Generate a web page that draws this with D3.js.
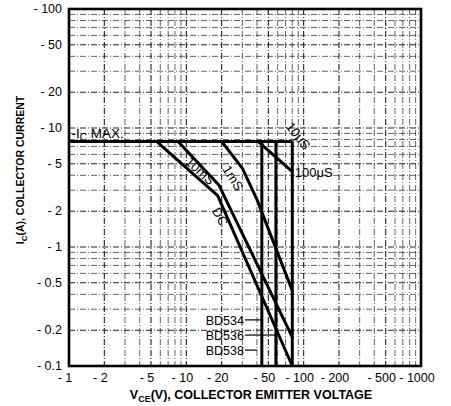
<!DOCTYPE html>
<html>
<head>
<meta charset="utf-8">
<script src="https://cdn.jsdelivr.net/npm/d3@7"></script>
<style>
  body { margin: 0; background: #fff; }
  text { font-family: "Liberation Sans", Arial, sans-serif; fill: #000; }
</style>
</head>
<body>
<div class="vis-soa"></div>
<script>
// tick labels
const xTicks = [1, 2, 5, 10, 20, 50, 100, 200, 500, 1000];
const yTicks = [100, 50, 20, 10, 5, 2, 1, 0.5, 0.2, 0.1];

// limits (V, A)
const icMax = 7.7;
const bvceo = [44, 58, 80];
const partNames = ['BD534', 'BD536', 'BD538'];

// curves, [Vce, Ic]
const dcCurve = [[5.6, 7.7], [18.5, 2.7], [80, 0.1]];
const ms10Curve = [[8.5, 7.7], [19, 3.3], [80, 0.175]];
const ms1Curve = [[20, 7.7], [30, 4.6], [40, 2.5], [80, 0.43]];
const us100Curve = [[41, 7.7], [80, 4.3]];

const drawsoa = () => {
    const W = 451, H = 406;
    const margin = {top: 9, right: 30, bottom: 40, left: 69};
    const width = W - margin.left - margin.right;
    const height = H - margin.top - margin.bottom;

    let svg = d3.select('.vis-soa').append('svg')
        .attr('width', W)
        .attr('height', H)
        .append('g')
        .attr('transform', 'translate(' + margin.left + ',' + margin.top + ')');

    let x = d3.scaleLog().domain([1, 1000]).range([0, width]);
    let y = d3.scaleLog().domain([0.1, 100]).range([height, 0]);

    // log grid
    let xs = [], ys = [];
    [1, 10, 100].forEach(d => { for (let k = 1; k < 10; k++) xs.push(d * k); });
    [0.1, 1, 10].forEach(d => { for (let k = 1; k < 10; k++) ys.push(+(d * k).toPrecision(3)); });

    svg.append('g').selectAll('line')
        .data(xs.slice(1))
        .enter().append('line')
        .attr('x1', d => x(d)).attr('x2', d => x(d))
        .attr('y1', 0).attr('y2', height)
        .attr('stroke', '#222')
        .attr('stroke-width', d => xTicks.indexOf(d) >= 0 ? 1.1 : 0.7)
        .attr('stroke-dasharray', '6,2,1,2');

    svg.append('g').selectAll('line')
        .data(ys.slice(1))
        .enter().append('line')
        .attr('y1', d => y(d)).attr('y2', d => y(d))
        .attr('x1', 0).attr('x2', width)
        .attr('stroke', '#222')
        .attr('stroke-width', d => yTicks.indexOf(d) >= 0 ? 1.1 : 0.7)
        .attr('stroke-dasharray', '6,2,1,2');

    // frame
    svg.append('rect')
        .attr('width', width).attr('height', height)
        .attr('fill', 'none')
        .attr('stroke', '#000')
        .attr('stroke-width', 2.6);

    // tick labels
    svg.append('g').selectAll('text')
        .data(xTicks)
        .enter().append('text')
        .attr('x', d => x(d) - 4)
        .attr('y', height + 16)
        .attr('text-anchor', 'middle')
        .style('font-size', '12.5px')
        .text(d => '- ' + d);

    svg.append('g').selectAll('text')
        .data(yTicks)
        .enter().append('text')
        .attr('x', -7)
        .attr('y', d => y(d) + 4)
        .attr('text-anchor', 'end')
        .style('font-size', '12.5px')
        .text(d => '- ' + d);

    // SOA lines
    const line = d3.line()
        .x(d => x(d[0]))
        .y(d => y(d[1]));

    const heavy = (g, data) => g.append('path')
        .datum(data)
        .attr('fill', 'none')
        .attr('stroke', '#000')
        .attr('stroke-width', 3)
        .attr('stroke-linejoin', 'round')
        .attr('d', line);

    heavy(svg, [[1, icMax], [bvceo[2], icMax]]);
    bvceo.forEach(v => heavy(svg, [[v, icMax], [v, 0.1]]));
    heavy(svg, dcCurve);
    heavy(svg, ms10Curve);
    heavy(svg, ms1Curve);
    heavy(svg, us100Curve);

    // annotations
    let icLabel = svg.append('text')
        .attr('x', x(1.05)).attr('y', y(icMax) - 4)
        .style('font-size', '13.5px');
    icLabel.append('tspan').text('-I');
    icLabel.append('tspan').attr('dy', 3).style('font-size', '10px').text('C');
    icLabel.append('tspan').attr('dy', -3).text(' MAX.');

    const rotLabel = (txt, v, i, ang) => svg.append('text')
        .attr('transform', 'translate(' + x(v) + ',' + y(i) + ') rotate(' + ang + ')')
        .attr('text-anchor', 'middle')
        .attr('dy', '0.35em')
        .style('font-size', '13px')
        .text(txt);

    rotLabel('10mS', 13.1, 4.35, 42);
    rotLabel('1mS', 25, 3.8, 58);
    rotLabel('DC', 19.4, 1.8, 60);
    rotLabel('10\u03bcS', 90, 8.6, 52);

    svg.append('text')
        .attr('x', x(84)).attr('y', y(4.3) + 5)
        .style('font-size', '13px')
        .text('100\u03bcS');

    // part labels with leaders
    const partI = [0.244, 0.182, 0.136];
    const leadTo = [44, 58, 40];
    partNames.forEach((p, k) => {
        svg.append('text')
            .attr('x', x(31)).attr('y', y(partI[k]) + 5)
            .attr('text-anchor', 'end')
            .style('font-size', '12.5px')
            .text(p);
        svg.append('line')
            .attr('x1', x(31.5)).attr('x2', x(leadTo[k]))
            .attr('y1', y(partI[k])).attr('y2', y(partI[k]))
            .attr('stroke', '#000').attr('stroke-width', 1.2);
    });

    // axis titles
    let xt = svg.append('text')
        .attr('x', width / 2 + 6)
        .attr('y', height + 33)
        .attr('text-anchor', 'middle')
        .style('font-size', '12.5px')
        .style('font-weight', 'bold');
    xt.append('tspan').text('V');
    xt.append('tspan').attr('dy', 3).style('font-size', '9px').text('CE');
    xt.append('tspan').attr('dy', -3).text('(V), COLLECTOR EMITTER VOLTAGE');

    let yt = svg.append('text')
        .attr('transform', 'translate(' + (-45) + ',' + 161 + ') rotate(-90)')
        .attr('text-anchor', 'middle')
        .style('font-size', '10.5px')
        .style('font-weight', 'bold');
    yt.append('tspan').text('I');
    yt.append('tspan').attr('dy', 3).style('font-size', '8px').text('C');
    yt.append('tspan').attr('dy', -3).text('(A), COLLECTOR CURRENT');
};

drawsoa();
</script>
</body>
</html>
